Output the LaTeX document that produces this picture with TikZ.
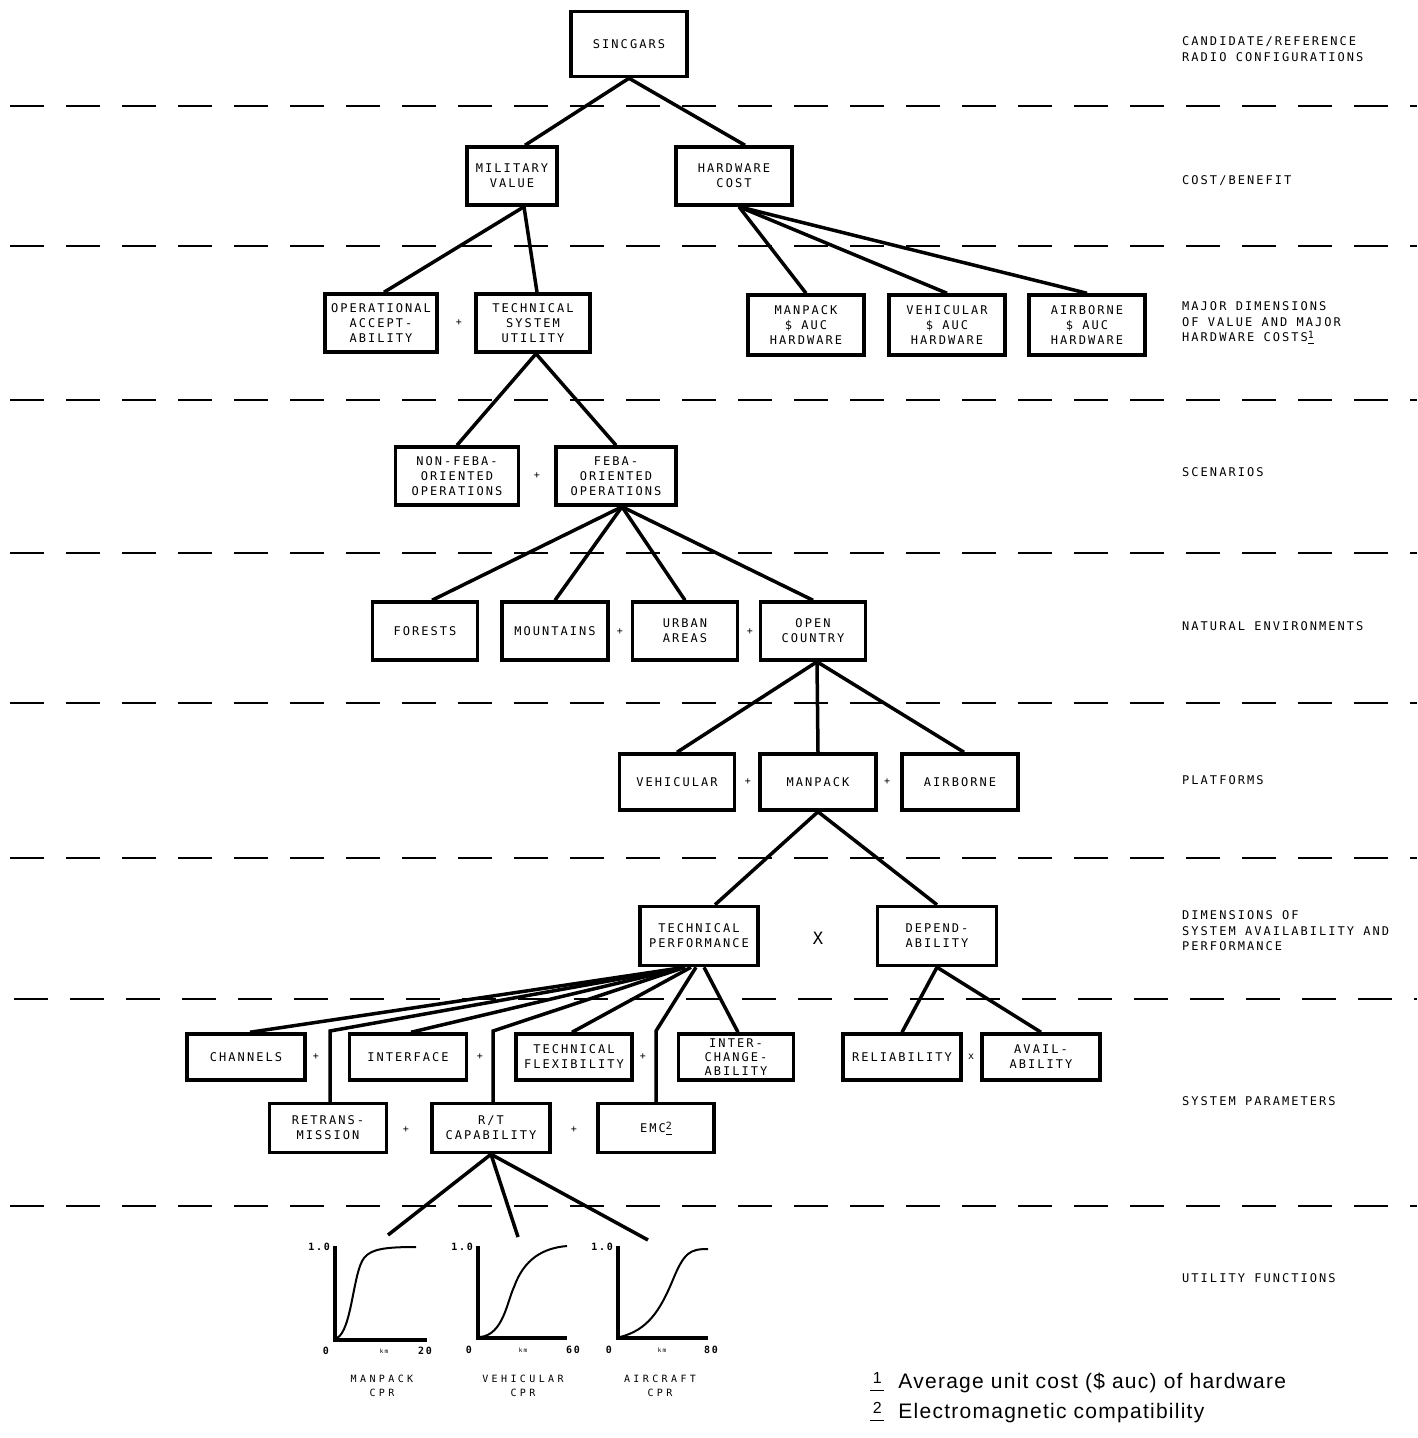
\documentclass[tikz,border=0pt]{standalone}
\usepackage{fontspec}
\setmainfont{Liberation Sans}
\newfontfamily\typefont[LetterSpace=17]{DejaVu Sans Mono}
\newfontfamily\smalltype[LetterSpace=34]{DejaVu Sans Mono}
\newfontfamily\notefont[LetterSpace=6]{Liberation Sans}
\usetikzlibrary{positioning}
\tikzstyle{box} = [draw, line width=3.5pt, minimum width=116pt, minimum height=58pt, inner sep=1pt, align=center, font=\typefont\fontsize{12}{15}\selectfont]
\tikzstyle{link} = [line width=3.5pt]
\tikzstyle{sepline} = [line width=2.5pt, dash pattern=on 34pt off 22pt]
\tikzstyle{tag} = [anchor=west, align=left, inner sep=0pt, font=\typefont\fontsize{12}{15.5}\selectfont]
\tikzstyle{oper} = [inner sep=0pt, font=\typefont\fontsize{10}{12}\selectfont]
\tikzstyle{axis} = [line width=4pt]
\tikzstyle{curve} = [line width=2pt]
\tikzstyle{tick} = [inner sep=1pt, font=\typefont\bfseries\fontsize{10}{12}\selectfont]
\tikzstyle{gname} = [inner sep=0pt, align=center, font=\smalltype\fontsize{10}{14}\selectfont]
\newcommand{\notenum}[1]{\underline{\raisebox{0.5ex}{\fontsize{10}{10}\selectfont #1}}}
\newcommand{\footnum}[1]{\underline{\raisebox{0.45ex}{\fontsize{16}{16}\selectfont\,#1\,}}}

\begin{document}
\begin{tikzpicture}[x=1pt, y=-1pt]
\useasboundingbox (0,0) rectangle (1417,1438);

% Level separators
\draw[sepline] (10,106) -- (1417,106);
\draw[sepline] (10,246) -- (1417,246);
\draw[sepline] (10,400) -- (1417,400);
\draw[sepline] (10,553) -- (1417,553);
\draw[sepline] (10,703) -- (1417,703);
\draw[sepline] (10,858) -- (1417,858);
\draw[sepline] (14,999) -- (1417,999);
\draw[sepline] (10,1206) -- (1417,1206);

% Level names
\node[tag] (lvlradio) at (1182,49) {CANDIDATE/REFERENCE\\RADIO CONFIGURATIONS};
\node[tag] (lvlcost) at (1182,181) {COST/BENEFIT};
\node[tag] (lvlmajor) at (1182,323) {MAJOR DIMENSIONS\\OF VALUE AND MAJOR\\HARDWARE COSTS\notenum{1}};
\node[tag] (lvlscen) at (1182,472) {SCENARIOS};
\node[tag] (lvlenv) at (1182,626) {NATURAL ENVIRONMENTS};
\node[tag] (lvlplat) at (1182,780) {PLATFORMS};
\node[tag] (lvldim) at (1182,931) {DIMENSIONS OF\\SYSTEM AVAILABILITY AND\\PERFORMANCE};
\node[tag] (lvlparam) at (1182,1101) {SYSTEM PARAMETERS};
\node[tag] (lvlutil) at (1182,1278) {UTILITY FUNCTIONS};

% Tree boxes
\node[box, minimum height=65pt] (sinc) at (629,44) {SINCGARS};
\node[box, minimum width=90pt] (milval) at (512,176) {MILITARY\\VALUE};
\node[box] (hwcost) at (734,176) {HARDWARE\\COST};

\node[box, minimum width=112pt] (opacc) at (381,323) {OPERATIONAL\\ACCEPT-\\ABILITY};
\node[box, minimum width=114pt] (tsu) at (533,323) {TECHNICAL\\SYSTEM\\UTILITY};
\node[box, minimum height=60pt] (hwman) at (806,325) {MANPACK\\\$ AUC\\HARDWARE};
\node[box, minimum height=60pt] (hwveh) at (947,325) {VEHICULAR\\\$ AUC\\HARDWARE};
\node[box, minimum height=60pt] (hwair) at (1087,325) {AIRBORNE\\\$ AUC\\HARDWARE};

\node[box, minimum width=123pt] (nonfeba) at (457,476) {NON-FEBA-\\ORIENTED\\OPERATIONS};
\node[box, minimum width=120pt] (feba) at (616,476) {FEBA-\\ORIENTED\\OPERATIONS};

\node[box, minimum width=105pt] (forest) at (425,631) {FORESTS};
\node[box, minimum width=106pt] (mount) at (555,631) {MOUNTAINS};
\node[box, minimum width=105pt] (urban) at (685,631) {URBAN\\AREAS};
\node[box, minimum width=105pt] (open) at (813,631) {OPEN\\COUNTRY};

\node[box, minimum width=115pt, minimum height=56pt] (veh) at (677,782) {VEHICULAR};
\node[box, minimum height=56pt] (man) at (818,782) {MANPACK};
\node[box, minimum height=56pt] (air) at (960,782) {AIRBORNE};

\node[box, minimum width=118pt, minimum height=59pt] (techperf) at (699,936) {TECHNICAL\\PERFORMANCE};
\node[box, minimum width=119pt, minimum height=59pt] (depend) at (937,936) {DEPEND-\\ABILITY};

\node[box, minimum width=118pt, minimum height=46pt] (chan) at (246,1057) {CHANNELS};
\node[box, minimum width=117pt, minimum height=46pt] (iface) at (408,1057) {INTERFACE};
\node[box, minimum height=46pt] (techflex) at (574,1057) {TECHNICAL\\FLEXIBILITY};
\node[box, minimum width=115pt, minimum height=46pt, font=\typefont\fontsize{12}{14}\selectfont] (inter) at (736,1057) {INTER-\\CHANGE-\\ABILITY};
\node[box, minimum width=118pt, minimum height=46pt] (relia) at (902,1057) {RELIABILITY};
\node[box, minimum width=118pt, minimum height=46pt] (avail) at (1041,1057) {AVAIL-\\ABILITY};
\node[box, minimum width=117pt, minimum height=49pt] (retrans) at (328,1128) {RETRANS-\\MISSION};
\node[box, minimum width=118pt, minimum height=49pt] (rtcap) at (491,1128) {R/T\\CAPABILITY};
\node[box, minimum height=49pt] (emc) at (656,1128) {EMC\notenum{2}};

% Operators
\node[oper] (op1) at (459,323) {+};
\node[oper] (op2) at (537,476) {+};
\node[oper] (op3) at (620,632) {+};
\node[oper] (op4) at (750,632) {+};
\node[oper] (op5) at (748,782) {+};
\node[oper] (op6) at (887,782) {+};
\node[oper, font=\typefont\fontsize{17}{17}\selectfont] (op7) at (818,938) {X};
\node[oper] (op8) at (316,1057) {+};
\node[oper] (op9) at (480,1057) {+};
\node[oper] (op10) at (643,1057) {+};
\node[oper] (op11) at (971,1057) {x};
\node[oper] (op12) at (406,1130) {+};
\node[oper] (op13) at (574,1130) {+};

% Bends and free ends
\coordinate (retbend) at (330,1031);
\coordinate (rtbend) at (493,1031);
\coordinate (emcbend) at (656,1031);
\coordinate (g1top) at (388,1235);
\coordinate (g2top) at (518,1237);
\coordinate (g3top) at (648,1240);

% Connectors
\draw[link] (sinc.south) -- ([xshift=13pt]milval.north);
\draw[link] (sinc.south) -- ([xshift=11pt]hwcost.north);
\draw[link] ([xshift=12pt]milval.south) -- ([xshift=3pt]opacc.north);
\draw[link] ([xshift=12pt]milval.south) -- ([xshift=4pt]tsu.north);
\draw[link] ([xshift=5pt]hwcost.south) -- (hwman.north);
\draw[link] ([xshift=5pt]hwcost.south) -- (hwveh.north);
\draw[link] ([xshift=5pt]hwcost.south) -- (hwair.north);
\draw[link] ([xshift=3pt]tsu.south) -- (nonfeba.north);
\draw[link] ([xshift=3pt]tsu.south) -- (feba.north);
\draw[link] ([xshift=6pt]feba.south) -- ([xshift=7pt]forest.north);
\draw[link] ([xshift=6pt]feba.south) -- (mount.north);
\draw[link] ([xshift=6pt]feba.south) -- (urban.north);
\draw[link] ([xshift=6pt]feba.south) -- (open.north);
\draw[link] ([xshift=4pt]open.south) -- (veh.north);
\draw[link] ([xshift=4pt]open.south) -- (man.north);
\draw[link] ([xshift=4pt]open.south) -- ([xshift=4pt]air.north);
\draw[link] (man.south) -- ([xshift=16pt]techperf.north);
\draw[link] (man.south) -- (depend.north);
\draw[link] ([xshift=-14pt]techperf.south) -- ([xshift=4pt]chan.north);
\draw[link] ([xshift=-14pt]techperf.south) -- (retbend) -- (retrans.north -| retbend);
\draw[link] ([xshift=-14pt]techperf.south) -- ([xshift=3pt]iface.north);
\draw[link] ([xshift=-14pt]techperf.south) -- (rtbend) -- (rtcap.north -| rtbend);
\draw[link] ([xshift=-8pt]techperf.south) -- ([xshift=-2pt]techflex.north);
\draw[link] ([xshift=-3pt]techperf.south) -- (emcbend) -- (emc.north);
\draw[link] ([xshift=5pt]techperf.south) -- ([xshift=2pt]inter.north);
\draw[link] (depend.south) -- (relia.north);
\draw[link] (depend.south) -- (avail.north);
\draw[link] (rtcap.south) -- (g1top);
\draw[link] (rtcap.south) -- (g2top);
\draw[link] (rtcap.south) -- (g3top);

% Utility curves
\draw[axis] (335,1246) -- (335,1340) -- (427,1340);
\draw[curve] (337,1338) .. controls (352,1330) and (353,1272) .. (364,1258) .. controls (371,1249) and (385,1247) .. (416,1247);
\node[tick, anchor=east] (g1max) at (331,1247) {1.0};
\node[tick] (g1min) at (326,1351) {0};
\node[tick, font=\typefont\fontsize{6}{7}\selectfont] (g1unit) at (384,1351) {km};
\node[tick] (g1end) at (425,1351) {20};
\node[gname] (g1name) at (382,1386) {MANPACK\\CPR};

\draw[axis] (478,1246) -- (478,1338) -- (567,1338);
\draw[curve] (480,1337) .. controls (503,1335) and (507,1302) .. (514,1287) .. controls (524,1259) and (543,1248) .. (567,1246);
\node[tick, anchor=east] (g2max) at (474,1247) {1.0};
\node[tick] (g2min) at (469,1350) {0};
\node[tick, font=\typefont\fontsize{6}{7}\selectfont] (g2unit) at (523,1350) {km};
\node[tick] (g2end) at (573,1350) {60};
\node[gname] (g2name) at (523,1386) {VEHICULAR\\CPR};

\draw[axis] (618,1246) -- (618,1338) -- (708,1338);
\draw[curve] (620,1337) .. controls (648,1330) and (660,1310) .. (672,1282) .. controls (684,1252) and (690,1249) .. (708,1249);
\node[tick, anchor=east] (g3max) at (614,1247) {1.0};
\node[tick] (g3min) at (609,1350) {0};
\node[tick, font=\typefont\fontsize{6}{7}\selectfont] (g3unit) at (662,1350) {km};
\node[tick] (g3end) at (711,1350) {80};
\node[gname] (g3name) at (660,1386) {AIRCRAFT\\CPR};

% Footnotes
\node[anchor=west, inner sep=0pt, font=\notefont\fontsize{21}{24}\selectfont] (note1) at (870,1383) {\footnum{1}\hspace{14pt}Average unit cost (\$ auc) of hardware};
\node[anchor=west, inner sep=0pt, font=\notefont\fontsize{21}{24}\selectfont] (note2) at (870,1413) {\footnum{2}\hspace{14pt}Electromagnetic compatibility};
\end{tikzpicture}
\end{document}
